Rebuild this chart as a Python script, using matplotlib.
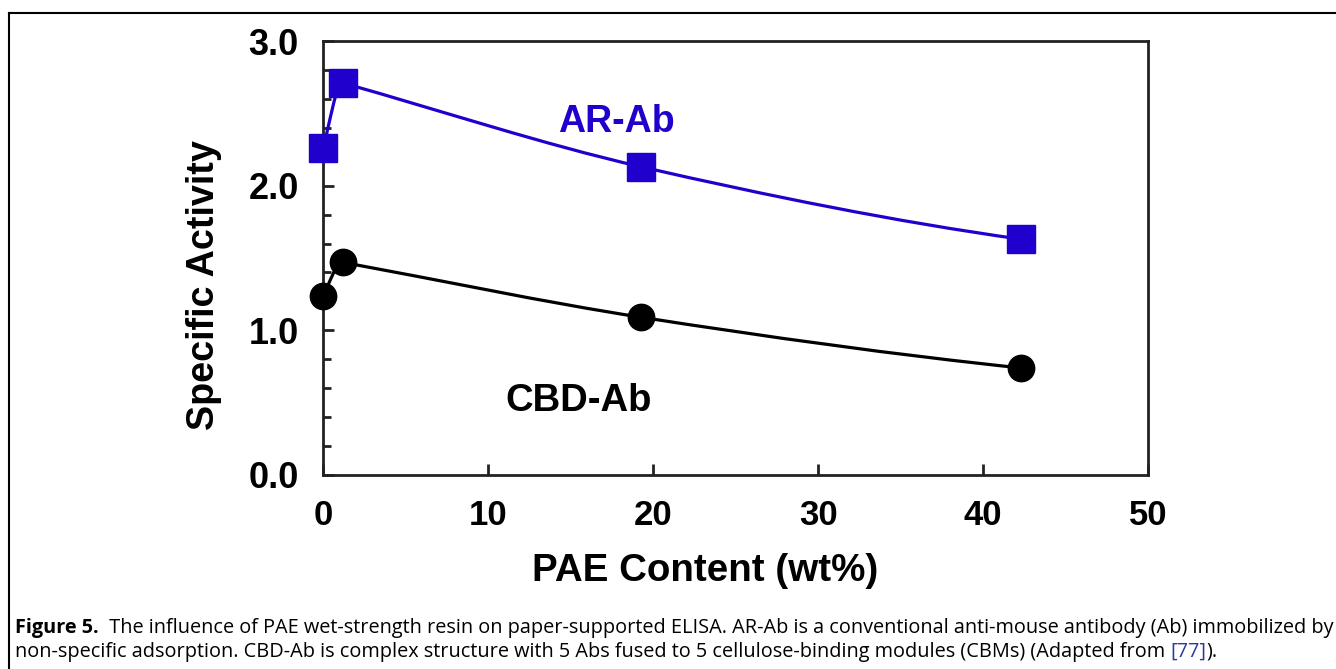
import matplotlib
matplotlib.use("Agg")
import matplotlib.pyplot as plt
from matplotlib.path import Path
from matplotlib.patches import PathPatch
from matplotlib.ticker import MultipleLocator
import numpy as np

# data
pae = [0.0, 1.2, 19.3, 42.3]
ar_ab = [2.26, 2.71, 2.13, 1.63]
cbd_ab = [1.24, 1.47, 1.09, 0.74]

x_ticks = [0, 10, 20, 30, 40, 50]
y_ticks = [0.0, 1.0, 2.0, 3.0]

blue = "#2000cc"
plt.rcParams["font.family"] = ["Liberation Sans", "DejaVu Sans"]


def curve_slopes(x, y):
    # pchip-like slopes; at a peak follow the longer neighbouring segment
    x = np.asarray(x, float)
    y = np.asarray(y, float)
    h = np.diff(x)
    d = np.diff(y) / h
    m = np.zeros_like(y)
    for k in range(1, len(x) - 1):
        if d[k - 1] * d[k] > 0:
            w1 = 2 * h[k] + h[k - 1]
            w2 = h[k] + 2 * h[k - 1]
            m[k] = (w1 + w2) / (w1 / d[k - 1] + w2 / d[k])
        else:
            m[k] = d[k] if h[k] > h[k - 1] else d[k - 1]
    m0 = ((2 * h[0] + h[1]) * d[0] - h[0] * d[1]) / (h[0] + h[1])
    if np.sign(m0) != np.sign(d[0]):
        m0 = 0
    m[0] = m0
    mn = ((2 * h[-1] + h[-2]) * d[-1] - h[-1] * d[-2]) / (h[-1] + h[-2])
    if np.sign(mn) != np.sign(d[-1]):
        mn = 0
    m[-1] = mn
    return m


def smooth_path(x, y):
    m = curve_slopes(x, y)
    verts = [(x[0], y[0])]
    codes = [Path.MOVETO]
    for k in range(len(x) - 1):
        h = x[k + 1] - x[k]
        verts += [(x[k] + h / 3, y[k] + m[k] * h / 3),
                  (x[k + 1] - h / 3, y[k + 1] - m[k + 1] * h / 3),
                  (x[k + 1], y[k + 1])]
        codes += [Path.CURVE4] * 3
    return Path(verts, codes)


fig = plt.figure(figsize=(13.36, 6.69), dpi=100)
ax = fig.add_axes([0.2418, 0.29, 0.6175, 0.6487])

# smooth connecting lines
ax.add_patch(PathPatch(smooth_path(pae, ar_ab), facecolor="none", edgecolor=blue, lw=2.3, zorder=2))
ax.add_patch(PathPatch(smooth_path(pae, cbd_ab), facecolor="none", edgecolor="black", lw=2.3, zorder=2))

ax.plot(pae, ar_ab, ls="none", marker="s", ms=20, color=blue, zorder=3, clip_on=False)
ax.plot(pae, cbd_ab, ls="none", marker="o", ms=19, color="black", zorder=3, clip_on=False)

ax.text(17.75, 2.44, "AR-Ab", color=blue, fontsize=27, fontweight="bold", ha="center", va="center")
ax.text(15.5, 0.51, "CBD-Ab", color="black", fontsize=27.5, fontweight="bold", ha="center", va="center")

ax.set_xlim(0, 50)
ax.set_ylim(0, 3)
ax.set_xticks(x_ticks)
ax.set_xticklabels([str(v) for v in x_ticks])
ax.set_yticks(y_ticks)
ax.set_yticklabels(["%.1f" % v for v in y_ticks])
ax.yaxis.set_minor_locator(MultipleLocator(0.2))

for s in ax.spines.values():
    s.set_linewidth(2)
    s.set_color("#222222")
ax.tick_params(axis="both", which="major", direction="in", length=8, width=2,
               pad=17.5, colors="#222222", labelcolor="black")
ax.tick_params(axis="x", labelsize=25)
ax.tick_params(axis="y", labelsize=26)
ax.tick_params(axis="y", which="minor", direction="in", length=6, width=2, colors="#222222")
for lab in ax.get_xticklabels() + ax.get_yticklabels():
    lab.set_fontweight("bold")

ax.set_xlabel("PAE Content (wt%)", fontsize=27.7, fontweight="bold")
ax.set_ylabel("Specific Activity", fontsize=27.2, fontweight="bold")
ax.xaxis.set_label_coords(0.463, -0.18)
ax.yaxis.set_label_coords(-0.122, 0.438)

# figure frame (top and left edges visible)
fig.add_artist(plt.Line2D([9 / 1336, 1], [1 - 13 / 669, 1 - 13 / 669], color="black", lw=1.5))
fig.add_artist(plt.Line2D([9 / 1336, 9 / 1336], [0, 1 - 13 / 669], color="black", lw=1.5))

# caption
cap_font = ["Open Sans", "DejaVu Sans"]
cap_size = 14.3
y1 = 1 - 628 / 669
y2 = 1 - 652 / 669
t1 = fig.text(15 / 1336, y1, "Figure 5.", fontsize=cap_size, fontweight="bold", family=cap_font, va="center")
ax.annotate("  The influence of PAE wet-strength resin on paper-supported ELISA. AR-Ab is a conventional "
            "anti-mouse antibody (Ab) immobilized by",
            xy=(1, 0.5), xycoords=t1, va="center", ha="left", fontsize=cap_size, family=cap_font,
            annotation_clip=False)
t2 = fig.text(15 / 1336, y2, "non-specific adsorption. CBD-Ab is complex structure with 5 Abs fused to 5 "
              "cellulose-binding modules (CBMs) (Adapted from ", fontsize=cap_size, family=cap_font, va="center")
t3 = ax.annotate("[77]", xy=(1, 0.5), xycoords=t2, va="center", ha="left", fontsize=cap_size,
                 family=cap_font, color="#2b3a9a", annotation_clip=False)
ax.annotate(").", xy=(1, 0.5), xycoords=t3, va="center", ha="left", fontsize=cap_size,
            family=cap_font, annotation_clip=False)

fig.savefig("out.png", dpi=100)
